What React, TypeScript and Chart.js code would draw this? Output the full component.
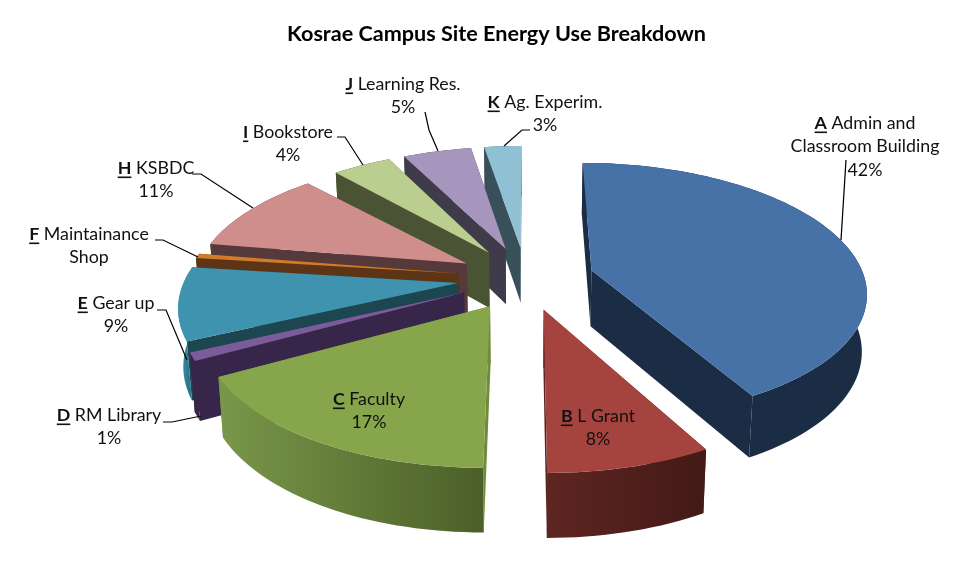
import React, { useEffect, useRef } from "react";
import { Chart, registerables } from "chart.js";

Chart.register(...registerables);

// "G" has no label and no visible face in the picture: it only leaves the gap beside H.
const KEYS = ["A", "B", "C", "D", "E", "F", "H", "G", "I", "J", "K"];
const VALUES = [42, 8, 17, 1, 9, 0.6, 10.4, 0.5, 4.1, 4.8, 2.6];
const NAME_LINES = [
  [" Admin and", "Classroom Building"],
  [" L Grant"],
  [" Faculty"],
  [" RM Library"],
  [" Gear up"],
  [" Maintainance", "Shop"],
  [" KSBDC"],
  [],
  [" Bookstore"],
  [" Learning Res."],
  [" Ag. Experim."],
];
const PERCENT_LABELS = ["42%", "8%", "17%", "1%", "9%", "", "11%", "", "4%", "5%", "3%"];
const TOP_COLORS = ["#4672A8", "#A5443F", "#87A54A", "#7A5C9B", "#3F93AE", "#D27C2B", "#CF8E8C", "#FFFFFF", "#BACE8F", "#A695BC", "#8FC0D4"];
const RADIAL_COLORS = ["#1A2D45", "#5A2320", "#6F8B3C", "#37264A", "#1C4650", "#5D3516", "#55393B", "#FFFFFF", "#4B5335", "#403B4B", "#37505A"];
const ARC_LEFT = ["#1A2D45", "#5E2521", "#7A9749", "#37264A", "#3F93AE", "#5D3516", "#55393B", "#FFFFFF", "#4B5335", "#403B4B", "#37505A"];
const ARC_RIGHT = ["#1A2D45", "#431A17", "#4B5F28", "#37264A", "#266E85", "#5D3516", "#55393B", "#FFFFFF", "#4B5335", "#403B4B", "#37505A"];

// layout of the drawn text and leader lines (canvas pixels)
const LABEL_CENTERS = [
  [865, 123], [598, 416], [369, 399], [109, 415], [116, 303],
  [89, 234], [156, 168], [0, 0], [288, 132], [403, 84], [545, 102],
];
const LEADERS = [
  [[846, 160], [841, 240]],
  [],
  [],
  [[163, 422], [172, 422], [201, 416]],
  [[157, 310], [166, 310], [187, 360]],
  [[155, 240], [163, 240], [198, 257]],
  [[192, 174], [201, 174], [253, 208]],
  [],
  [[337, 137], [345, 137], [363, 165]],
  [[425, 112], [429, 130], [438, 151]],
  [[530, 130], [522, 130], [504, 146]],
];

// perspective of the disc
const CX = 526, CY = 278, SX = 273, SY = 126.4, PERSP = 0.1567, EXPLODE = 0.25, DEPTH = 56.4;
const PAINT_ORDER = [10, 9, 8, 6, 5, 4, 3, 2, 0, 1];
const FONT = '"Lato", "Open Sans", sans-serif';
const FONT_SIZE = 17.8;
const LINE_H = 23.5;

type P = [number, number];
const project = (x: number, y: number): P => {
  const w = 1 - PERSP * y;
  return [CX + (SX * x) / w, CY + (SY * y) / w];
};
const drop = (p: P): P => [p[0] - (p[0] - CX) * 0.015, p[1] + DEPTH + 0.044 * (p[1] - CY)];

function poly(ctx: CanvasRenderingContext2D, pts: P[], fill: string | CanvasGradient) {
  ctx.beginPath();
  pts.forEach((p, i) => (i ? ctx.lineTo(p[0], p[1]) : ctx.moveTo(p[0], p[1])));
  ctx.closePath();
  ctx.fillStyle = fill;
  ctx.fill();
}

function drawSlice(ctx: CanvasRenderingContext2D, arc: any, i: number) {
  const { startAngle, endAngle } = arc.getProps(["startAngle", "endAngle"], true);
  const t0 = startAngle + Math.PI / 2;
  const t1 = endAngle + Math.PI / 2;
  const mid = (t0 + t1) / 2;
  const ex = EXPLODE * Math.sin(mid);
  const ey = -EXPLODE * Math.cos(mid);
  const apex = project(ex, ey);
  const n = Math.max(2, Math.ceil((t1 - t0) / 0.03));
  const rim: P[] = [];
  for (let s = 0; s <= n; s++) {
    const t = t0 + ((t1 - t0) * s) / n;
    rim.push(project(ex + Math.sin(t), ey - Math.cos(t)));
  }
  const xs = rim.map((p) => p[0]);
  const grad = ctx.createLinearGradient(Math.min(...xs), 0, Math.max(...xs), 0);
  grad.addColorStop(0, ARC_LEFT[i]);
  grad.addColorStop(1, ARC_RIGHT[i]);
  const faces: { pts: P[]; fill: string | CanvasGradient; key: number }[] = [];
  const radial = (q: P) => faces.push({
    pts: [apex, q, drop(q), drop(apex)],
    fill: RADIAL_COLORS[i],
    key: (apex[1] + q[1]) / 2,
  });
  radial(rim[0]);
  radial(rim[n]);
  faces.push({
    pts: [...rim, ...rim.slice().reverse().map(drop)],
    fill: grad,
    key: Math.max(...rim.map((p) => p[1])),
  });
  faces.sort((a, b) => a.key - b.key).forEach((f) => poly(ctx, f.pts, f.fill));
  poly(ctx, [apex, ...rim], TOP_COLORS[i]);
}

const pie3d = {
  id: "pie3d",
  beforeDatasetsDraw(chart: any) {
    const ctx = chart.ctx as CanvasRenderingContext2D;
    const arcs = chart.getDatasetMeta(0).data;
    ctx.save();
    PAINT_ORDER.forEach((i) => drawSlice(ctx, arcs[i], i));
    ctx.restore();
    return false;
  },
  afterDraw(chart: any) {
    const ctx = chart.ctx as CanvasRenderingContext2D;
    ctx.save();
    ctx.strokeStyle = "#000";
    ctx.lineWidth = 1.2;
    LEADERS.forEach((pts) => {
      if (!pts.length) return;
      ctx.beginPath();
      pts.forEach((p, i) => (i ? ctx.lineTo(p[0], p[1]) : ctx.moveTo(p[0], p[1])));
      ctx.stroke();
    });
    ctx.fillStyle = "#111";
    ctx.textBaseline = "middle";
    KEYS.forEach((key, i) => {
      if (!NAME_LINES[i].length) return;
      const [cx, cy] = LABEL_CENTERS[i];
      const lines = NAME_LINES[i].slice();
      if (PERCENT_LABELS[i]) lines.push(PERCENT_LABELS[i]);
      lines.forEach((line, li) => {
        const y = cy + li * LINE_H;
        ctx.textAlign = "left";
        if (li === 0) {
          ctx.font = `bold ${FONT_SIZE}px ${FONT}`;
          const kw = ctx.measureText(key).width;
          ctx.font = `${FONT_SIZE}px ${FONT}`;
          const rw = ctx.measureText(line).width;
          const x0 = cx - (kw + rw) / 2;
          ctx.font = `bold ${FONT_SIZE}px ${FONT}`;
          ctx.fillText(key, x0, y);
          ctx.fillRect(x0, y + 8.5, kw, 1.6);
          ctx.font = `${FONT_SIZE}px ${FONT}`;
          ctx.fillText(line, x0 + kw, y);
        } else {
          ctx.font = `${FONT_SIZE}px ${FONT}`;
          ctx.textAlign = "center";
          ctx.fillText(line, cx, y);
        }
      });
    });
    ctx.restore();
  },
};

export default function App() {
  const ref = useRef<HTMLCanvasElement | null>(null);
  useEffect(() => {
    document.body.style.margin = "0";
    const chart = new Chart(ref.current as HTMLCanvasElement, {
      type: "pie",
      data: {
        labels: KEYS,
        datasets: [{ data: VALUES, backgroundColor: TOP_COLORS, borderWidth: 0 }],
      },
      options: {
        responsive: false,
        animation: false,
        layout: { padding: { left: 20, top: 10 } },
        plugins: {
          legend: { display: false },
          tooltip: { enabled: false },
          title: {
            display: true,
            text: "Kosrae Campus Site Energy Use Breakdown",
            color: "#000",
            font: { family: FONT, size: 21.6, weight: "bold" },
            padding: { top: 11, bottom: 10 },
          },
        },
      },
      plugins: [pie3d],
    } as any);
    return () => chart.destroy();
  }, []);
  return (
    <div style={{ width: 973, height: 583, background: "#fff" }}>
      <canvas ref={ref} width={973} height={583} style={{ display: "block" }} />
    </div>
  );
}
